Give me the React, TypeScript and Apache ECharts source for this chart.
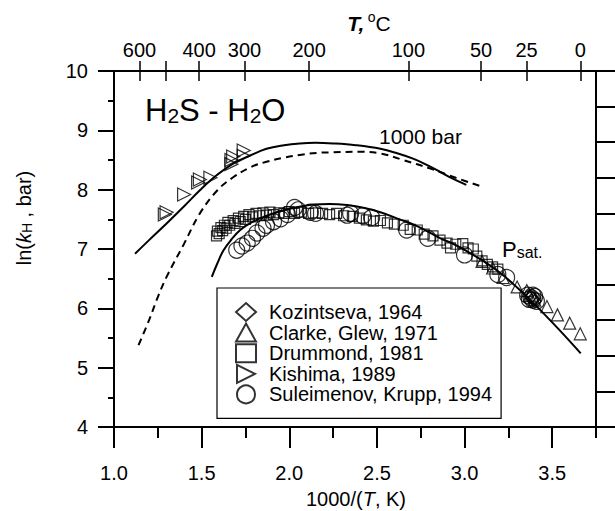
import React, { useEffect, useRef } from "react";
import * as echarts from "echarts";

// 1000 bar curves (x = 1000/(T,K), y = ln kH)
const solid1000: number[][] = [
  [1.12, 6.92], [1.2, 7.15], [1.3, 7.43], [1.4, 7.72], [1.49, 7.99], [1.58, 8.23],
  [1.68, 8.44], [1.78, 8.58], [1.87, 8.69], [1.97, 8.75], [2.06, 8.78], [2.15, 8.79],
  [2.25, 8.78], [2.38, 8.75], [2.52, 8.69], [2.62, 8.61], [2.71, 8.52], [2.79, 8.41],
  [2.86, 8.3], [2.93, 8.19], [3.01, 8.08],
];
const dashed1000: number[][] = [
  [1.14, 5.38], [1.2, 5.8], [1.25, 6.19], [1.3, 6.53], [1.4, 7.09], [1.49, 7.6],
  [1.59, 7.99], [1.68, 8.21], [1.78, 8.38], [1.87, 8.47], [1.97, 8.54], [2.07, 8.59],
  [2.16, 8.62], [2.25, 8.63], [2.4, 8.64], [2.52, 8.61], [2.65, 8.5], [2.81, 8.35],
  [2.95, 8.2], [3.1, 8.05],
];
const psatCurve: number[][] = [
  [1.558, 6.53], [1.59, 6.76], [1.625, 6.98], [1.67, 7.16], [1.72, 7.32], [1.78, 7.44],
  [1.853, 7.54], [1.93, 7.62], [2.006, 7.68], [2.14, 7.75], [2.23, 7.76], [2.33, 7.74],
  [2.43, 7.69], [2.52, 7.62], [2.63, 7.5], [2.71, 7.41], [2.78, 7.31], [2.863, 7.18],
  [2.94, 7.08], [3.015, 6.96], [3.11, 6.79], [3.206, 6.59], [3.3, 6.35], [3.396, 6.08],
  [3.53, 5.67], [3.663, 5.24],
];

const kozintseva: number[][] = [[3.38, 6.2], [3.39, 6.16], [3.4, 6.12]];
const clarkeGlew: number[][] = [
  [3.1, 6.79], [3.16, 6.68], [3.22, 6.52], [3.3, 6.36], [3.355, 6.3], [3.37, 6.22],
  [3.4, 6.14], [3.47, 6.03], [3.53, 5.89], [3.6, 5.75], [3.66, 5.57],
];
const drummond: number[][] = [
  [1.585, 7.22], [1.59, 7.3], [1.6, 7.26], [1.61, 7.36], [1.62, 7.31], [1.63, 7.4],
  [1.64, 7.35], [1.65, 7.45], [1.66, 7.4], [1.68, 7.48], [1.69, 7.43], [1.71, 7.52],
  [1.72, 7.46], [1.74, 7.55], [1.75, 7.5], [1.77, 7.58], [1.79, 7.54], [1.81, 7.6],
  [1.83, 7.56], [1.85, 7.61], [1.87, 7.57], [1.89, 7.62], [1.91, 7.58], [1.94, 7.61],
  [1.97, 7.6], [2.0, 7.63], [2.03, 7.6], [2.07, 7.62], [2.11, 7.6], [2.15, 7.61],
  [2.19, 7.6], [2.23, 7.58], [2.27, 7.6], [2.31, 7.56], [2.36, 7.55], [2.4, 7.52],
  [2.44, 7.49], [2.48, 7.47], [2.52, 7.48], [2.56, 7.44], [2.6, 7.42], [2.65, 7.4],
  [2.69, 7.33], [2.73, 7.32], [2.77, 7.25], [2.82, 7.22], [2.86, 7.15], [2.9, 7.1],
  [2.92, 7.02], [2.95, 7.08], [2.99, 7.09], [3.02, 7.02], [3.05, 7.0], [3.07, 6.88],
  [3.1, 6.8], [3.13, 6.74], [3.16, 6.7], [3.19, 6.66],
];
const kishima: number[][] = [
  [1.29, 7.58], [1.3, 7.62], [1.4, 7.92], [1.48, 8.12], [1.49, 8.17], [1.55, 8.2],
  [1.67, 8.43], [1.67, 8.5], [1.68, 8.56], [1.74, 8.57], [1.74, 8.66],
];
const suleimenov: number[][] = [
  [1.7, 6.98], [1.73, 7.05], [1.76, 7.1], [1.79, 7.18], [1.815, 7.27], [1.85, 7.35],
  [1.87, 7.4], [1.91, 7.46], [1.95, 7.51], [1.99, 7.58], [2.03, 7.7], [2.05, 7.66],
  [2.12, 7.62], [2.15, 7.6], [2.33, 7.57], [2.35, 7.6], [2.42, 7.56], [2.47, 7.53],
  [2.67, 7.32], [2.79, 7.18], [3.0, 6.9], [3.19, 6.57], [3.24, 6.52], [3.36, 6.22],
  [3.38, 6.18], [3.39, 6.14], [3.4, 6.2], [3.41, 6.12], [3.37, 6.15], [3.39, 6.22],
];

const legendNames = [
  "Kozintseva, 1964",
  "Clarke, Glew, 1971",
  "Drummond, 1981",
  "Kishima, 1989",
  "Suleimenov, Krupp, 1994",
];

const bottomMajorTicks = [1.0, 1.5, 2.0, 2.5, 3.0, 3.5];
const topTempTicks = [600, 500, 400, 300, 200, 100, 50, 25, 0];
const topTempLabels = [600, 400, 300, 200, 100, 50, 25, 0];

const FONT = "'Liberation Sans', Arial, Helvetica, sans-serif";

export default function App() {
  const ref = useRef<HTMLDivElement>(null);

  useEffect(() => {
    const chart = echarts.init(ref.current!, null, { renderer: "svg" });
    const toInv = (t: number) => 1000 / (t + 273.15);
    const tickVals = topTempTicks.map(toInv);
    const labelVals = topTempLabels.map(toInv);
    const black = "#000";
    const axisLineStyle = { color: black, width: 2 };
    const hollow = { color: "rgba(0,0,0,0)", borderColor: black, borderWidth: 1.2 };

    const lineSeries = (name: string, data: number[][], dashed: boolean) => ({
      name,
      type: "line",
      data,
      smooth: 0.4,
      showSymbol: false,
      symbol: "none",
      silent: true,
      xAxisIndex: 0,
      yAxisIndex: 0,
      lineStyle: { color: black, width: 2, type: dashed ? [7, 5] : "solid" },
      z: 2,
    });
    const scatter = (name: string, data: number[][], symbol: string, size: number) => ({
      name,
      type: "scatter",
      data,
      symbol,
      symbolSize: size,
      symbolKeepAspect: true,
      xAxisIndex: 0,
      yAxisIndex: 0,
      itemStyle: hollow,
      silent: true,
      z: 3,
    });

    const option: any = {
      animation: false,
      backgroundColor: "#fff",
      textStyle: { fontFamily: FONT },
      grid: { left: 114, right: 19, top: 71, bottom: 84, containLabel: false },
      xAxis: [
        {
          type: "value",
          position: "bottom",
          min: 1,
          max: 3.75,
          interval: 0.5,
          axisLine: { show: true, onZero: false, lineStyle: axisLineStyle },
          axisTick: { show: true, inside: false, length: 21, lineStyle: axisLineStyle, customValues: bottomMajorTicks },
          axisLabel: {
            show: true,
            customValues: bottomMajorTicks,
            formatter: (v: number) => v.toFixed(1),
            fontSize: 20,
            color: black,
            fontFamily: FONT,
            margin: 36,
          },
          splitLine: { show: false },
        },
        {
          type: "value",
          position: "bottom",
          min: 1,
          max: 3.75,
          interval: 0.25,
          axisLine: { show: false, onZero: false },
          axisTick: { show: true, inside: false, length: 11, lineStyle: axisLineStyle },
          axisLabel: { show: false },
          splitLine: { show: false },
        },
        {
          type: "value",
          position: "top",
          min: 1,
          max: 3.75,
          axisLine: { show: true, onZero: false, lineStyle: axisLineStyle },
          axisTick: { show: true, inside: false, length: 10, lineStyle: { color: black, width: 1.5 }, customValues: tickVals },
          axisLabel: {
            show: true,
            customValues: labelVals,
            formatter: (v: number) => String(Math.round(1000 / v - 273.15)),
            fontSize: 20,
            color: black,
            fontFamily: FONT,
            margin: 11,
          },
          splitLine: { show: false },
        },
        {
          type: "value",
          position: "top",
          min: 1,
          max: 3.75,
          axisLine: { show: false, onZero: false },
          axisTick: { show: true, inside: true, length: 10, lineStyle: { color: black, width: 1.5 }, customValues: tickVals },
          axisLabel: { show: false },
          splitLine: { show: false },
        },
      ],
      yAxis: [
        {
          type: "value",
          position: "left",
          min: 4,
          max: 10,
          interval: 1,
          axisLine: { show: true, onZero: false, lineStyle: axisLineStyle },
          axisTick: { show: true, inside: false, length: 16, lineStyle: axisLineStyle },
          minorTick: { show: true, splitNumber: 2, length: 6, lineStyle: axisLineStyle },
          axisLabel: { fontSize: 20, color: black, fontFamily: FONT, margin: 26 },
          splitLine: { show: false },
          minorSplitLine: { show: false },
        },
        {
          type: "value",
          position: "right",
          min: 0,
          max: 10,
          interval: 1,
          axisLine: { show: true, onZero: false, lineStyle: axisLineStyle },
          axisTick: { show: true, inside: false, length: 19, lineStyle: axisLineStyle },
          axisLabel: { show: false },
          splitLine: { show: false },
        },
      ],
      legend: {
        show: true,
        orient: "vertical",
        left: 217,
        top: 288,
        itemWidth: 20,
        itemHeight: 18,
        itemGap: 0.6,
        padding: [14, 9, 14, 18],
        borderColor: black,
        borderWidth: 1.2,
        selectedMode: false,
        data: legendNames,
        textStyle: { fontSize: 20, color: black, fontFamily: FONT, lineHeight: 18, padding: [0, 0, 0, 8] },
      },
      series: [
        lineSeries("1000 bar (solid)", solid1000, false),
        lineSeries("1000 bar (dashed)", dashed1000, true),
        lineSeries("Psat", psatCurve, false),
        scatter(legendNames[0], kozintseva, "diamond", 13),
        scatter(legendNames[1], clarkeGlew, "triangle", 12),
        scatter(legendNames[2], drummond, "rect", 10),
        scatter(legendNames[3], kishima, "path://M0,0L10,5L0,10Z", 13),
        scatter(legendNames[4], suleimenov, "circle", 16),
      ],
      graphic: [
        {
          type: "text",
          x: 145,
          y: 126,
          style: {
            text: "{m|H}{s|2}{m|S - H}{s|2}{m|O}",
            textVerticalAlign: "bottom",
            textAlign: "left",
            fill: black,
            rich: {
              m: { fontSize: 31, fontFamily: FONT, lineHeight: 34, verticalAlign: "bottom", fill: black },
              s: { fontSize: 21, fontFamily: FONT, lineHeight: 10, verticalAlign: "bottom", fill: black },
            },
          },
        },
        {
          type: "text",
          x: 379,
          y: 136,
          style: { text: "1000 bar", fontSize: 21, fontFamily: FONT, fill: black, textAlign: "left", textVerticalAlign: "middle" },
        },
        {
          type: "text",
          x: 502,
          y: 260,
          style: {
            text: "{p|P}{s|sat.}",
            textVerticalAlign: "bottom",
            textAlign: "left",
            fill: black,
            rich: {
              p: { fontSize: 22, fontFamily: FONT, lineHeight: 24, verticalAlign: "bottom", fill: black },
              s: { fontSize: 16, fontFamily: FONT, lineHeight: 6, verticalAlign: "bottom", fill: black },
            },
          },
        },
        {
          type: "text",
          x: 369,
          y: 22,
          style: {
            text: "{b|T,} {o|o}{n|C}",
            textAlign: "center",
            textVerticalAlign: "middle",
            fill: black,
            rich: {
              b: { fontSize: 21, fontFamily: FONT, fontWeight: "bold", fontStyle: "italic", lineHeight: 24, verticalAlign: "bottom", fill: black },
              o: { fontSize: 14, fontFamily: FONT, lineHeight: 14, verticalAlign: "top", fill: black },
              n: { fontSize: 21, fontFamily: FONT, lineHeight: 24, verticalAlign: "bottom", fill: black },
            },
          },
        },
        {
          type: "text",
          x: 356,
          y: 499,
          style: {
            text: "{n|1000/(}{i|T}{n|, K)}",
            textAlign: "center",
            textVerticalAlign: "middle",
            fill: black,
            rich: {
              n: { fontSize: 20, fontFamily: FONT, fill: black },
              i: { fontSize: 20, fontFamily: FONT, fontStyle: "italic", fill: black },
            },
          },
        },
        {
          type: "text",
          x: 23,
          y: 218,
          rotation: Math.PI / 2,
          style: {
            text: "{n|ln(}{i|k}{s|H}{n| , bar)}",
            textAlign: "center",
            textVerticalAlign: "middle",
            fill: black,
            rich: {
              n: { fontSize: 20, fontFamily: FONT, lineHeight: 22, verticalAlign: "bottom", fill: black },
              i: { fontSize: 20, fontFamily: FONT, fontStyle: "italic", lineHeight: 22, verticalAlign: "bottom", fill: black },
              s: { fontSize: 14, fontFamily: FONT, lineHeight: 8, verticalAlign: "bottom", fill: black },
            },
          },
        },
      ],
    };

    chart.setOption(option);
    return () => chart.dispose();
  }, []);

  return (
    <div
      ref={ref}
      style={{ position: "fixed", left: 0, top: 0, width: 615, height: 511, background: "#fff" }}
    />
  );
}
